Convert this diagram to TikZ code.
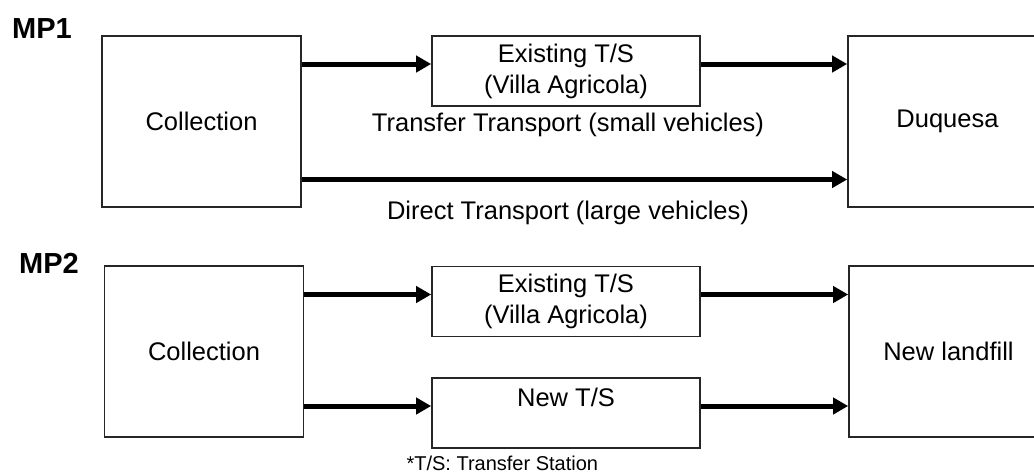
\documentclass[tikz,border=0pt]{standalone}
\usepackage{fontspec}
\setmainfont{Liberation Sans}
\usetikzlibrary{arrows.meta}

\begin{document}
\begin{tikzpicture}[x=1pt,y=-1pt,
    font=\fontsize{25.5}{31}\selectfont,
    bigbox/.style={draw=black!85,line width=1.6pt,minimum width=199pt,minimum height=171pt,inner sep=0pt},
    tsbox/.style={draw=black!85,line width=1.6pt,minimum width=268pt,minimum height=70pt,inner sep=0pt,align=center},
    flow/.style={line width=5pt,-{Triangle[length=15pt,width=16pt]}},
    plan/.style={font=\fontsize{29}{35}\selectfont\bfseries}]

      \useasboundingbox (0,0) rectangle (1034,475);

      % MP1
      \node[plan] (mp1) at (42,29) {MP1};
      \node[bigbox] (col1) at (201.5,121.5) {Collection};
      \node[tsbox] (ts1) at (566,71) {Existing T/S\\(Villa Agricola)};
      \node[bigbox] (duq) at (947.5,121.5) {Duquesa};
      \draw[flow] ([yshift=7pt]ts1.west -| col1.east) -- ([yshift=7pt]ts1.west);
      \draw[flow] ([yshift=7pt]ts1.east) -- ([yshift=7pt]ts1.east -| duq.west);
      \draw[flow] ([yshift=-58pt]col1.east) -- ([yshift=-58pt]duq.west);
      \node (smallv) at (568,125) {Transfer Transport (small vehicles)};
      \node (largev) at (568,213) {Direct Transport (large vehicles)};

      % MP2
      \node[plan] (mp2) at (49,263) {MP2};
      \node[bigbox] (col2) at (204,351.5) {Collection};
      \node[tsbox] (ts2) at (566,301.5) {Existing T/S\\(Villa Agricola)};
      \node[tsbox] (ts3) at (566,413) {New T/S\\~};
      \node[bigbox] (land) at (948.5,351.5) {New landfill};
      \draw[flow] ([yshift=7pt]ts2.west -| col2.east) -- ([yshift=7pt]ts2.west);
      \draw[flow] ([yshift=7pt]ts3.west -| col2.east) -- ([yshift=7pt]ts3.west);
      \draw[flow] ([yshift=7pt]ts2.east) -- ([yshift=7pt]ts2.east -| land.west);
      \draw[flow] ([yshift=7pt]ts3.east) -- ([yshift=7pt]ts3.east -| land.west);
      \node[anchor=west,font=\fontsize{20}{24}\selectfont] (note) at (403,463) {*T/S: Transfer Station};

    \end{tikzpicture}
\end{document}
